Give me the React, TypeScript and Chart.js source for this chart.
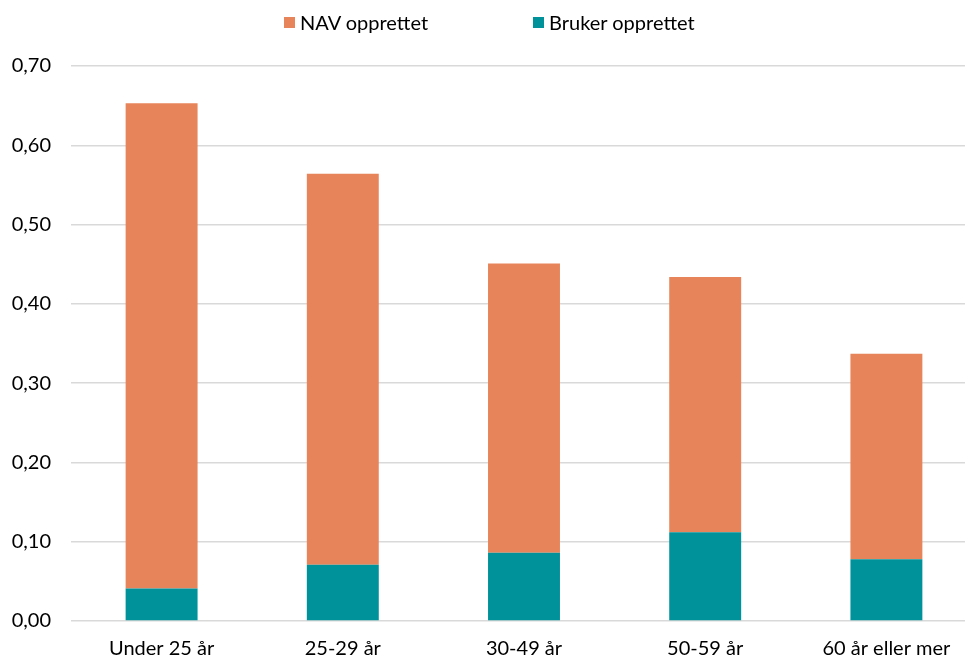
import React, { useEffect, useRef } from "react";
import { Chart, registerables } from "chart.js";

Chart.register(...registerables);

const categories = ["Under 25 år", "25-29 år", "30-49 år", "50-59 år", "60 år eller mer"];
const brukerValues = [0.041, 0.071, 0.086, 0.112, 0.078];
const navValues = [0.612, 0.493, 0.365, 0.322, 0.259];
const seriesNames = ["NAV opprettet", "Bruker opprettet"];
const yTicks = [0, 0.1, 0.2, 0.3, 0.4, 0.5, 0.6, 0.7];

const ORANGE = "#E8845A";
const TEAL = "#00929A";
const FONT = "Lato, 'Open Sans', sans-serif";

export default function App() {
  const ref = useRef<HTMLCanvasElement>(null);

  useEffect(() => {
    const chart = new Chart(ref.current as HTMLCanvasElement, {
      type: "bar",
      data: {
        labels: categories,
        datasets: [
          { label: seriesNames[1], data: brukerValues, backgroundColor: TEAL, stack: "s" },
          { label: seriesNames[0], data: navValues, backgroundColor: ORANGE, stack: "s" },
        ],
      },
      options: {
        responsive: false,
        animation: false,
        layout: { padding: { top: 66, left: 10, right: 0, bottom: 0 } },
        plugins: { legend: { display: false }, tooltip: { enabled: false } },
        datasets: { bar: { barPercentage: 0.397, categoryPercentage: 1 } },
        scales: {
          x: {
            stacked: true,
            grid: { display: false, drawTicks: false },
            border: { display: false },
            afterFit: (scale: any) => {
              scale.height = 38;
            },
            ticks: {
              color: "#000",
              font: { family: FONT, size: 20 },
              padding: 16,
              maxRotation: 0,
              autoSkip: false,
            },
          },
          y: {
            stacked: true,
            min: 0,
            max: 0.7,
            afterBuildTicks: (axis: any) => {
              axis.ticks = yTicks.map((v) => ({ value: v }));
            },
            afterFit: (scale: any) => {
              scale.width = 61;
            },
            ticks: {
              color: "#000",
              font: { family: FONT, size: 20 },
              padding: 20,
              callback: (v: any) => Number(v).toFixed(2).replace(".", ","),
            },
            grid: { color: "#d9d9d9", lineWidth: 1.5, drawTicks: false },
            border: { display: false },
          },
        },
      },
    });
    return () => chart.destroy();
  }, []);

  const legendItem = (label: string, color: string, left: number) => (
    <div
      style={{
        position: "absolute",
        left,
        top: 10,
        display: "flex",
        alignItems: "center",
        fontFamily: FONT,
        fontSize: 20,
        color: "#000",
        whiteSpace: "nowrap",
        lineHeight: "24px",
      }}
    >
      <span style={{ display: "inline-block", width: 11, height: 11, background: color, marginRight: 5 }} />
      <span>{label}</span>
    </div>
  );

  return (
    <div
      style={{
        position: "fixed",
        left: 0,
        top: 0,
        width: 965,
        height: 659,
        overflow: "hidden",
        background: "#fff",
      }}
    >
      <canvas ref={ref} width={977} height={659} style={{ display: "block" }} />
      {legendItem(seriesNames[0], ORANGE, 284)}
      {legendItem(seriesNames[1], TEAL, 533)}
    </div>
  );
}
